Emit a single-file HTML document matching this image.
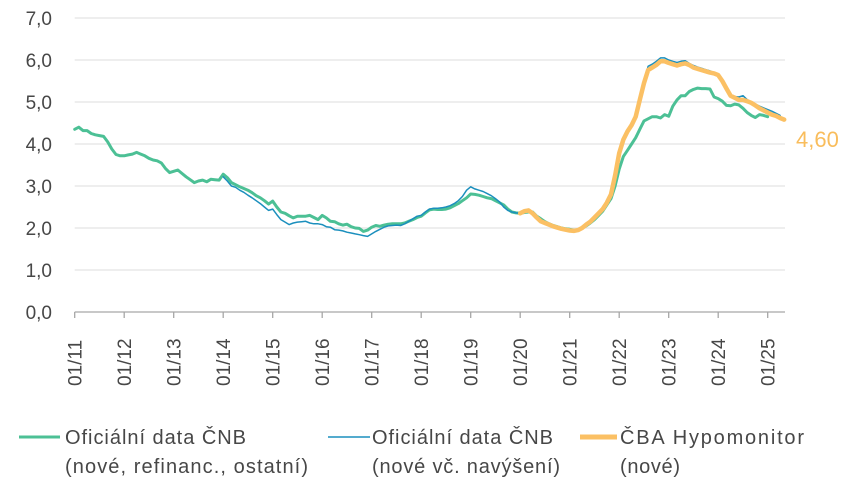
<!DOCTYPE html>
<html><head><meta charset="utf-8"><style>
body{margin:0;background:#fff;}
svg{display:block;font-family:"Liberation Sans",sans-serif;}
</style></head><body>
<svg id="chart" width="849" height="493" viewBox="0 0 849 493" xmlns="http://www.w3.org/2000/svg">
<g id="grid"></g>
<g id="yaxis"></g>
<g id="xaxis"></g>
<g id="series"></g>
<text x="796" y="147" font-size="22" fill="#f9bd5c">4,60</text>
<g font-size="20" fill="#474747">
<g>
<line x1="19" y1="437" x2="60" y2="437" stroke="#4cc095" stroke-width="3"/>
<text x="65" y="444" textLength="181">Oficiální data ČNB</text>
<text x="65" y="473" textLength="243">(nové, refinanc., ostatní)</text></g>
<g>
<line x1="328" y1="437" x2="370" y2="437" stroke="#1b8fbd" stroke-width="1.5"/>
<text x="372" y="444" textLength="181">Oficiální data ČNB</text>
<text x="372" y="473" textLength="188">(nové vč. navýšení)</text></g>
<g>
<line x1="580" y1="437" x2="617" y2="437" stroke="#fbc064" stroke-width="5"/>
<text x="620" y="444" textLength="184">ČBA Hypomonitor</text>
<text x="620" y="473" textLength="60">(nové)</text></g>
</g>
</svg>
<script>
const yTicks=[0,1,2,3,4,5,6,7];
const yTickLabels=["0,0","1,0","2,0","3,0","4,0","5,0","6,0","7,0"];
const xTickMonths=[0,12,24,36,48,60,72,84,96,108,120,132,144,156,168];
const xTickLabels=["01/11","01/12","01/13","01/14","01/15","01/16","01/17","01/18","01/19","01/20","01/21","01/22","01/23","01/24","01/25"];
const greenStart=0;
const greenValues=[4.35,4.40,4.32,4.32,4.25,4.22,4.20,4.18,4.05,3.88,3.75,3.72,
3.72,3.74,3.76,3.80,3.76,3.72,3.66,3.62,3.60,3.55,3.42,3.32,
3.35,3.38,3.30,3.22,3.15,3.08,3.12,3.14,3.10,3.16,3.15,3.14,
3.28,3.20,3.08,3.03,2.98,2.94,2.90,2.84,2.77,2.72,2.65,2.57,
2.64,2.50,2.38,2.35,2.29,2.24,2.28,2.28,2.28,2.30,2.25,2.20,
2.30,2.24,2.16,2.15,2.10,2.07,2.09,2.03,2.00,1.99,1.92,1.95,
2.02,2.06,2.04,2.07,2.09,2.10,2.10,2.10,2.12,2.16,2.20,2.25,
2.28,2.36,2.43,2.45,2.44,2.44,2.45,2.48,2.53,2.58,2.65,2.72,
2.81,2.80,2.78,2.75,2.72,2.70,2.65,2.60,2.55,2.45,2.38,2.36,
2.35,2.37,2.38,2.38,2.28,2.22,2.15,2.10,2.06,2.03,2.00,1.98,
1.97,1.95,1.95,2.00,2.05,2.12,2.20,2.30,2.40,2.55,2.70,3.00,
3.40,3.70,3.85,4.00,4.15,4.35,4.55,4.60,4.65,4.65,4.62,4.70,
4.66,4.90,5.05,5.15,5.15,5.25,5.30,5.33,5.32,5.32,5.31,5.12,
5.08,5.02,4.92,4.91,4.95,4.93,4.85,4.75,4.68,4.63,4.70,4.68,4.65];
const blueStart=36;
const blueValues=[3.22,3.12,3.00,2.97,2.90,2.85,2.78,2.72,2.65,2.58,2.50,2.42,
2.45,2.32,2.20,2.14,2.08,2.12,2.14,2.15,2.16,2.12,2.10,2.10,
2.08,2.03,2.02,1.96,1.95,1.93,1.90,1.88,1.86,1.84,1.82,1.80,
1.86,1.92,1.97,2.02,2.05,2.06,2.07,2.06,2.10,2.16,2.22,2.28,
2.30,2.38,2.45,2.47,2.47,2.48,2.50,2.53,2.58,2.65,2.75,2.90,
2.98,2.93,2.90,2.87,2.82,2.77,2.70,2.62,2.50,2.42,2.38,2.36,
2.35,2.40,2.42,2.35,2.25,2.16,2.12,2.08,2.04,2.01,1.98,1.96,
1.94,1.93,1.95,2.00,2.08,2.15,2.25,2.35,2.45,2.60,2.80,3.25,
3.78,4.10,4.30,4.45,4.65,5.05,5.45,5.85,5.90,5.97,6.05,6.05,
6.00,5.97,5.94,5.97,5.98,5.92,5.87,5.83,5.80,5.77,5.74,5.70,
5.60,5.45,5.28,5.18,5.13,5.12,5.15,5.06,5.00,4.95,4.90,4.86,
4.82,4.78,4.73,4.68];
const orangeStart=108;
const orangeValues=[2.35,2.40,2.42,2.35,2.25,2.16,2.12,2.08,2.04,2.01,1.98,1.96,
1.94,1.93,1.95,2.00,2.08,2.15,2.25,2.35,2.45,2.60,2.80,3.25,
3.78,4.10,4.30,4.45,4.65,5.05,5.45,5.76,5.82,5.88,5.97,5.97,
5.93,5.90,5.87,5.90,5.92,5.88,5.82,5.79,5.76,5.73,5.70,5.68,
5.64,5.50,5.32,5.15,5.10,5.05,5.05,5.02,4.98,4.92,4.85,4.80,
4.75,4.70,4.67,4.62,4.58];

const NS="http://www.w3.org/2000/svg";
const X0=74.7, PXM=4.125, XEND=785, Y0=312, PXU=42;
const xs=m=>X0+m*PXM;
const ys=v=>Y0-v*PXU;
function mk(tag,parent,attrs){const e=document.createElementNS(NS,tag);for(const k in attrs)e.setAttribute(k,attrs[k]);parent.appendChild(e);return e;}
const grid=document.getElementById('grid'),yax=document.getElementById('yaxis'),xax=document.getElementById('xaxis'),ser=document.getElementById('series');
yTicks.forEach((t,i)=>{
  if(t>0){const g=mk('line',grid,{x1:X0,x2:XEND,y1:ys(t),y2:ys(t),stroke:'#e3e3e3','stroke-width':1.3});
  
  }
  const tx=mk('text',yax,{x:52,y:ys(t)+7,'text-anchor':'end','font-size':19,fill:'#474747'});
  tx.textContent=yTickLabels[i];
  
  
});
const axl=mk('line',xax,{x1:X0,x2:XEND,y1:Y0,y2:Y0,stroke:'#a6a6a6','stroke-width':1.3});


xTickMonths.forEach((m,i)=>{
  const x=xs(m);
  const tk=mk('line',xax,{x1:x,x2:x,y1:Y0,y2:Y0+6,stroke:'#a6a6a6','stroke-width':1.3});
  
  
  const tx=mk('text',xax,{x:0,y:0,'font-size':19,fill:'#474747',transform:`translate(${x+7},386) rotate(-90)`});
  tx.textContent=xTickLabels[i];
  
  
});
function line(start,vals,color,w,name){
  const d=vals.map((v,i)=>(i?'L':'M')+xs(start+i).toFixed(1)+','+ys(v).toFixed(1)).join('');
  const p=mk('path',ser,{d:d,fill:'none',stroke:color,'stroke-width':w,'stroke-linejoin':'round','stroke-linecap':'round'});
  
  
}
line(greenStart,greenValues,'#4cc095',3,'series-cnb-all');
line(blueStart,blueValues,'#1b8fbd',1.5,'series-cnb-new');
line(orangeStart,orangeValues,'#fbc064',4.5,'series-cba-hypomonitor');
</script>
</body></html>
